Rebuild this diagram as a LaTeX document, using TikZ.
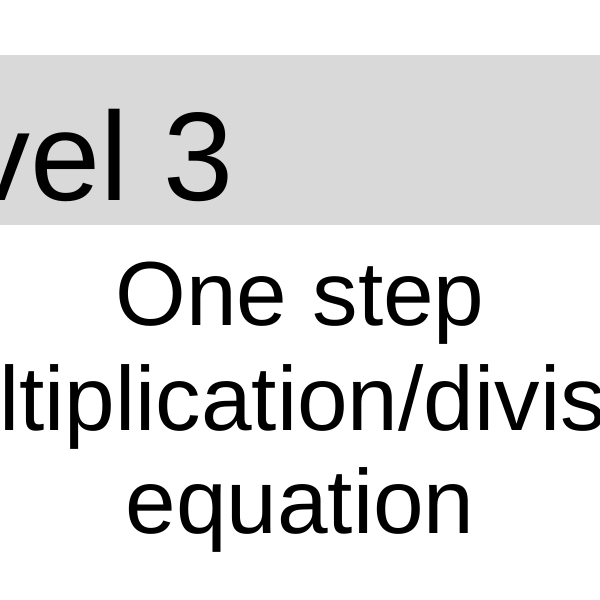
\documentclass[tikz,border=0pt]{standalone}
\usepackage{fontspec}
\setmainfont{Liberation Sans}
\definecolor{band}{HTML}{D9D9D9}
\begin{document}
\begin{tikzpicture}[x=1pt,y=-1pt,txt/.style={inner sep=0pt,anchor=base,font=\fontsize{91}{100}\selectfont}]
\useasboundingbox (0,0) rectangle (600,600);
\clip (0,0) rectangle (600,600);
\fill[white] (0,0) rectangle (600,600);
\fill[band] (0,55) rectangle (600,225);
\node[inner sep=0pt,anchor=base east,font=\fontsize{126}{130}\selectfont] (lvl) at (234,200) {Level 3};
\node[txt] (l1) at (300,325) {One step};
\node[txt] (l2) at (300,430) {multiplication/division};
\node[txt] (l3) at (300,533) {equation};
\end{tikzpicture}
\end{document}
